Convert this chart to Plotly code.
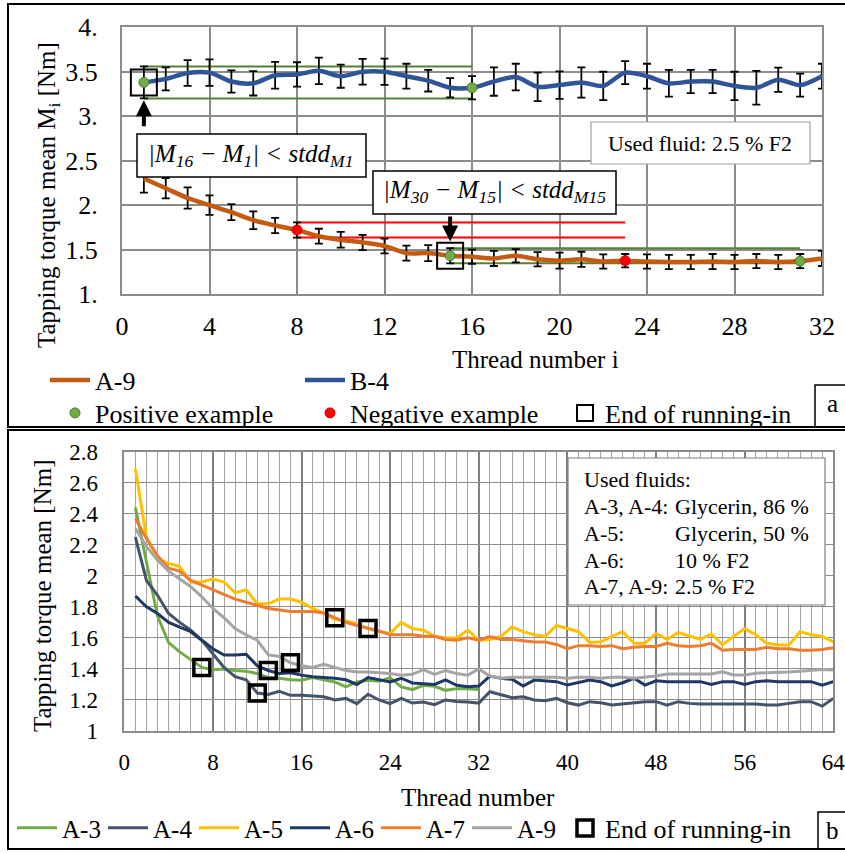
import plotly.graph_objects as go

W, H = 845, 853
FONT = "Liberation Serif"


def px(x):
    return x / W


def py(y):
    return 1 - y / H


# ---------------- data: panel a ----------------
threads_a = list(range(1, 33))
a9_top = [2.30, 2.19, 2.08, 2.00, 1.92, 1.83, 1.77, 1.72, 1.65, 1.61, 1.58, 1.54, 1.46, 1.46, 1.43, 1.42,
          1.40, 1.43, 1.39, 1.375, 1.39, 1.365, 1.375, 1.365, 1.36, 1.36, 1.365, 1.36, 1.37, 1.36, 1.37, 1.40]
a9_top_err = [0.16, 0.115, 0.12, 0.11, 0.09, 0.10, 0.086, 0.085, 0.084, 0.088, 0.086, 0.084, 0.084, 0.09, 0.085, 0.08,
              0.085, 0.075, 0.08, 0.09, 0.085, 0.08, 0.075, 0.08, 0.08, 0.08, 0.085, 0.08, 0.08, 0.08, 0.08, 0.085]
b4_top = [3.38, 3.42, 3.485, 3.49, 3.39, 3.37, 3.46, 3.47, 3.51, 3.45, 3.50, 3.50, 3.45, 3.40, 3.32, 3.32,
          3.39, 3.44, 3.33, 3.35, 3.38, 3.34, 3.49, 3.45, 3.37, 3.39, 3.39, 3.34, 3.32, 3.41, 3.35, 3.45]
b4_top_err = [0.18, 0.13, 0.145, 0.15, 0.125, 0.137, 0.15, 0.137, 0.15, 0.13, 0.145, 0.148, 0.14, 0.122, 0.109, 0.13,
              0.16, 0.15, 0.16, 0.155, 0.17, 0.16, 0.13, 0.14, 0.15, 0.13, 0.13, 0.16, 0.19, 0.137, 0.13, 0.14]
# (series, start thread, compared thread, kind)
bands = [("B-4", 1, 16, "pos"), ("A-9", 8, 23, "neg"), ("A-9", 15, 31, "pos")]
positive_pts = [("B-4", 1), ("B-4", 16), ("A-9", 15), ("A-9", 31)]
negative_pts = [("A-9", 8), ("A-9", 23)]
runin_top = [("B-4", 1), ("A-9", 15)]
x_ticks_a = [0, 4, 8, 12, 16, 20, 24, 28, 32]
y_ticks_a = [1, 1.5, 2, 2.5, 3, 3.5, 4]
y_ticktext_a = ["1.", "1.5", "2.", "2.5", "3.", "3.5", "4."]

# ---------------- data: panel b ----------------
threads_b = list(range(1, 65))
a3 = [2.44, 2.08, 1.74, 1.57, 1.51, 1.46, 1.41, 1.395, 1.40, 1.39, 1.385, 1.37, 1.345, 1.34, 1.33, 1.327,
      1.344, 1.33, 1.316, 1.284, 1.316, 1.327, 1.32, 1.344, 1.284, 1.267, 1.295, 1.288, 1.262, 1.273, 1.273, 1.267]
a4 = [2.25, 1.97, 1.875, 1.757, 1.70, 1.65, 1.585, 1.50, 1.41, 1.35, 1.33, 1.245, 1.235, 1.255, 1.23, 1.23,
      1.224, 1.22, 1.20, 1.21, 1.176, 1.237, 1.20, 1.176, 1.21, 1.18, 1.187, 1.17, 1.20, 1.19, 1.187, 1.18,
      1.253, 1.232, 1.215, 1.221, 1.20, 1.195, 1.21, 1.182, 1.167, 1.189, 1.182, 1.167, 1.174, 1.182, 1.189, 1.189,
      1.167, 1.189, 1.178, 1.174, 1.174, 1.174, 1.174, 1.178, 1.174, 1.167, 1.167, 1.178, 1.189, 1.189, 1.16, 1.21]
a5 = [2.69, 2.25, 2.11, 2.08, 2.06, 1.96, 1.96, 1.98, 1.96, 1.89, 1.91, 1.82, 1.82, 1.85, 1.85, 1.83,
      1.79, 1.76, 1.72, 1.71, 1.69, 1.66, 1.64, 1.63, 1.70, 1.66, 1.65, 1.61, 1.60, 1.60, 1.65, 1.585,
      1.59, 1.61, 1.67, 1.64, 1.62, 1.61, 1.68, 1.66, 1.64, 1.57, 1.575, 1.61, 1.64, 1.565, 1.565, 1.63,
      1.59, 1.635, 1.61, 1.59, 1.625, 1.555, 1.61, 1.66, 1.62, 1.565, 1.555, 1.555, 1.64, 1.62, 1.61, 1.575]
a6 = [1.87, 1.80, 1.757, 1.70, 1.67, 1.64, 1.585, 1.53, 1.49, 1.49, 1.495, 1.42, 1.39, 1.37, 1.375, 1.36,
      1.35, 1.345, 1.34, 1.33, 1.30, 1.345, 1.33, 1.316, 1.34, 1.31, 1.305, 1.30, 1.33, 1.295, 1.285, 1.29,
      1.354, 1.34, 1.333, 1.29, 1.328, 1.324, 1.318, 1.296, 1.311, 1.328, 1.318, 1.29, 1.311, 1.34, 1.296, 1.324,
      1.318, 1.318, 1.318, 1.318, 1.30, 1.318, 1.318, 1.30, 1.318, 1.324, 1.318, 1.318, 1.318, 1.318, 1.296, 1.318]
a7 = [2.37, 2.24, 2.13, 2.05, 2.03, 1.97, 1.94, 1.91, 1.88, 1.85, 1.83, 1.81, 1.79, 1.78, 1.77, 1.77,
      1.77, 1.76, 1.73, 1.70, 1.68, 1.66, 1.645, 1.62, 1.62, 1.62, 1.61, 1.61, 1.59, 1.585, 1.60, 1.585,
      1.608, 1.59, 1.59, 1.58, 1.573, 1.573, 1.558, 1.53, 1.55, 1.55, 1.545, 1.55, 1.53, 1.54, 1.545, 1.545,
      1.565, 1.55, 1.545, 1.55, 1.565, 1.52, 1.525, 1.525, 1.525, 1.54, 1.53, 1.53, 1.52, 1.52, 1.525, 1.537]
a9 = [2.305, 2.19, 2.10, 2.03, 1.98, 1.93, 1.865, 1.79, 1.73, 1.66, 1.62, 1.585, 1.49, 1.48, 1.44, 1.42,
      1.41, 1.43, 1.41, 1.39, 1.38, 1.38, 1.375, 1.37, 1.36, 1.365, 1.395, 1.365, 1.39, 1.37, 1.36, 1.40,
      1.354, 1.34, 1.346, 1.346, 1.346, 1.346, 1.346, 1.34, 1.346, 1.346, 1.34, 1.346, 1.346, 1.34, 1.346, 1.354,
      1.367, 1.367, 1.367, 1.367, 1.367, 1.382, 1.361, 1.361, 1.372, 1.376, 1.376, 1.38, 1.385, 1.389, 1.397, 1.393]
series_b_names = ["A-3", "A-4", "A-5", "A-6", "A-7", "A-9"]
series_b_values = [a3, a4, a5, a6, a7, a9]
series_b_colors = ["#70AD47", "#44546A", "#FFC000", "#1F3864", "#ED7D31", "#A5A5A5"]
runin_b = [("A-3", 7), ("A-4", 12), ("A-6", 13), ("A-9", 15), ("A-7", 19), ("A-5", 22)]
x_ticks_b = [0, 8, 16, 24, 32, 40, 48, 56, 64]
y_ticks_b = [1, 1.2, 1.4, 1.6, 1.8, 2, 2.2, 2.4, 2.6, 2.8]
fluid_labels = ["A-3, A-4:", "A-5:", "A-6:", "A-7, A-9:"]
fluid_values = ["Glycerin, 86 %", "Glycerin, 50 %", "10 % F2", "2.5 % F2"]

# ---------------- figure ----------------
top = {"A-9": (a9_top, a9_top_err), "B-4": (b4_top, b4_top_err)}
ORANGE, BLUE = "#C55A11", "#2F5597"
GREEN_LINE, RED_LINE = "#548235", "#FF0000"

fig = go.Figure()

for name, i, j, kind in bands:
    m = top[name][0][i - 1]
    s = top[name][1][i - 1]
    fig.add_trace(go.Scatter(
        x=[i, j, None, i, j], y=[m + s, m + s, None, m - s, m - s], mode="lines",
        line=dict(color=GREEN_LINE if kind == "pos" else RED_LINE, width=2),
        showlegend=False, hoverinfo="skip", xaxis="x", yaxis="y"))

for name, color in [("A-9", ORANGE), ("B-4", BLUE)]:
    vals, errs = top[name]
    fig.add_trace(go.Scatter(
        x=threads_a, y=vals, name=name, mode="lines",
        line=dict(color=color, width=4.5, shape="spline", smoothing=0.8),
        error_y=dict(type="data", array=errs, color="black", thickness=1.8, width=4),
        legend="legend", xaxis="x", yaxis="y"))

fig.add_trace(go.Scatter(
    x=[i for _, i in positive_pts], y=[top[n][0][i - 1] for n, i in positive_pts],
    mode="markers", name="Positive example",
    marker=dict(symbol="circle", size=10, color="#70AD47", line=dict(color="#4E7A30", width=1)),
    legend="legend2", xaxis="x", yaxis="y"))
fig.add_trace(go.Scatter(
    x=[i for _, i in negative_pts], y=[top[n][0][i - 1] for n, i in negative_pts],
    mode="markers", name="Negative example",
    marker=dict(symbol="circle", size=10, color="#FF0000", line=dict(color="#E00000", width=1)),
    legend="legend2", xaxis="x", yaxis="y"))
fig.add_trace(go.Scatter(
    x=[i for _, i in runin_top], y=[top[n][0][i - 1] for n, i in runin_top],
    mode="markers", name="End of running-in",
    marker=dict(symbol="square-open", size=26, color="black", line=dict(color="black", width=2)),
    legend="legend2", xaxis="x", yaxis="y"))

for name, vals, color in zip(series_b_names, series_b_values, series_b_colors):
    fig.add_trace(go.Scatter(
        x=threads_b[:len(vals)], y=vals, name=name, mode="lines",
        line=dict(color=color, width=3), legend="legend3", xaxis="x2", yaxis="y2"))
lookup_b = dict(zip(series_b_names, series_b_values))
fig.add_trace(go.Scatter(
    x=[i for _, i in runin_b], y=[lookup_b[n][i - 1] for n, i in runin_b],
    mode="markers", name="End of running-in",
    marker=dict(symbol="square-open", size=16, color="black", line=dict(color="black", width=3.5)),
    legend="legend4", xaxis="x2", yaxis="y2"))

tickfont_a = dict(family=FONT, size=26, color="black")
tickfont_b = dict(family=FONT, size=23, color="black")
GRID = "#8C8C8C"


def ann(text, x, y, size=25, **kw):
    d = dict(text=text, x=px(x), y=py(y), xref="paper", yref="paper", showarrow=False,
             xanchor="center", yanchor="middle",
             font=dict(family=FONT, size=size, color="black"))
    d.update(kw)
    return d


annotations = [
    ann("Tapping torque mean M<sub>i</sub> [Nm]", 48, 195, textangle=-90),
    ann("Thread number i", 535, 359),
    ann("Tapping torque mean [Nm]", 42, 596, textangle=-90),
    ann("Thread number", 478, 797),
    ann("<i>|M<sub>16</sub> − M<sub>1</sub>| &lt; stdd<sub>M1</sub></i>", 251, 156),
    ann("<i>|M<sub>30</sub> − M<sub>15</sub>| &lt; stdd<sub>M15</sub></i>", 494, 192),
    ann("Used fluid: 2.5 % F2", 700, 143, size=22),
    dict(x=1, y=3.18, ax=1, ay=2.87, xref="x", yref="y", axref="x", ayref="y", text="",
         showarrow=True, arrowhead=2, arrowsize=0.8, arrowwidth=4, arrowcolor="black"),
    dict(x=15, y=1.59, ax=15, ay=1.89, xref="x", yref="y", axref="x", ayref="y", text="",
         showarrow=True, arrowhead=2, arrowsize=0.8, arrowwidth=4, arrowcolor="black"),
    ann("a", 832, 404),
    ann("b", 832, 830),
    ann("Used fluids:", 582, 479, size=22, xanchor="left"),
]
line_y = [506.7, 533.3, 560, 586.7]
for k, (lab, val) in enumerate(zip(fluid_labels, fluid_values)):
    annotations.append(ann(lab, 582, line_y[k], size=22, xanchor="left"))
    annotations.append(ann(val, 673, line_y[k], size=22, xanchor="left"))


def rect(x0, y0, x1, y1, color="black", width=1.5, fill=None):
    d = dict(type="rect", xref="paper", yref="paper", x0=px(x0), x1=px(x1), y0=py(y1), y1=py(y0),
             line=dict(color=color, width=width), layer="above")
    if fill:
        d["fillcolor"] = fill
    return d


shapes = [
    rect(8, 4, 860, 427, width=2),
    rect(8, 430, 860, 849, width=2),
    rect(815, 385, 860, 427),
    rect(818, 812, 860, 849),
    rect(137, 134, 366, 177, fill="white"),
    rect(373, 171, 616, 214, fill="white"),
    rect(591, 122, 810, 164, color="#A0A0A0", width=1.2, fill="white"),
    rect(568, 458, 825, 605, color="#7F7F7F", width=1.2, fill="white"),
]

legend_common = dict(orientation="h", xanchor="left", yanchor="middle", bgcolor="rgba(0,0,0,0)",
                     entrywidthmode="pixels", traceorder="normal")
fig.update_layout(
    width=W, height=H, autosize=False,
    margin=dict(l=0, r=0, t=0, b=0, autoexpand=False),
    paper_bgcolor="white", plot_bgcolor="white",
    xaxis=dict(domain=[px(122), px(822)], range=[0, 32], tickvals=x_ticks_a, showgrid=True,
               gridcolor=GRID, gridwidth=2, zeroline=False, showline=True, mirror=True, linecolor=GRID,
               linewidth=2, tickfont=tickfont_a, anchor="y", ticks="outside", ticklen=8,
               tickcolor="rgba(0,0,0,0)"),
    yaxis=dict(domain=[py(294), py(27.3)], range=[1, 4], tickvals=y_ticks_a, ticktext=y_ticktext_a,
               showgrid=True, gridcolor=GRID, gridwidth=2, zeroline=False, showline=True, mirror=True,
               linecolor=GRID, linewidth=2, tickfont=tickfont_a, anchor="x", ticks="outside", ticklen=17,
               tickcolor="rgba(0,0,0,0)"),
    xaxis2=dict(domain=[px(124.3), px(833.3)], range=[0, 64], tickvals=x_ticks_b, showgrid=True,
                gridcolor="#7F7F7F", gridwidth=1.5, zeroline=False, showline=True, mirror=True,
                linecolor="#8C8C8C", linewidth=1.5, tickfont=tickfont_b, anchor="y2", ticks="outside",
                ticklen=10, tickcolor="rgba(0,0,0,0)", ticklabeloverflow="allow",
                minor=dict(dtick=1, showgrid=True, gridcolor="#A6A6A6", gridwidth=1)),
    yaxis2=dict(domain=[py(731), py(451.7)], range=[1, 2.8], tickvals=y_ticks_b, showgrid=True,
                gridcolor="#8C8C8C", gridwidth=1.2, zeroline=False, showline=True, mirror=True,
                linecolor="#8C8C8C", linewidth=1.5, tickfont=tickfont_b, anchor="x2", ticks="outside",
                ticklen=20, tickcolor="rgba(0,0,0,0)"),
    legend=dict(x=px(45), y=py(380), entrywidth=200, itemwidth=40,
                font=dict(family=FONT, size=26, color="black"), **legend_common),
    legend2=dict(x=px(55), y=py(413), entrywidth=210, itemwidth=30,
                 font=dict(family=FONT, size=26, color="black"), **legend_common),
    legend3=dict(x=px(12), y=py(828), entrywidth=36, itemwidth=40,
                 font=dict(family=FONT, size=25, color="black"), **legend_common),
    legend4=dict(x=px(565), y=py(828), font=dict(family=FONT, size=26, color="black"),
                 orientation="h", xanchor="left", yanchor="middle", bgcolor="rgba(0,0,0,0)", itemwidth=30),
    annotations=annotations,
    shapes=shapes,
    showlegend=True,
)

fig.write_html("out.html")
